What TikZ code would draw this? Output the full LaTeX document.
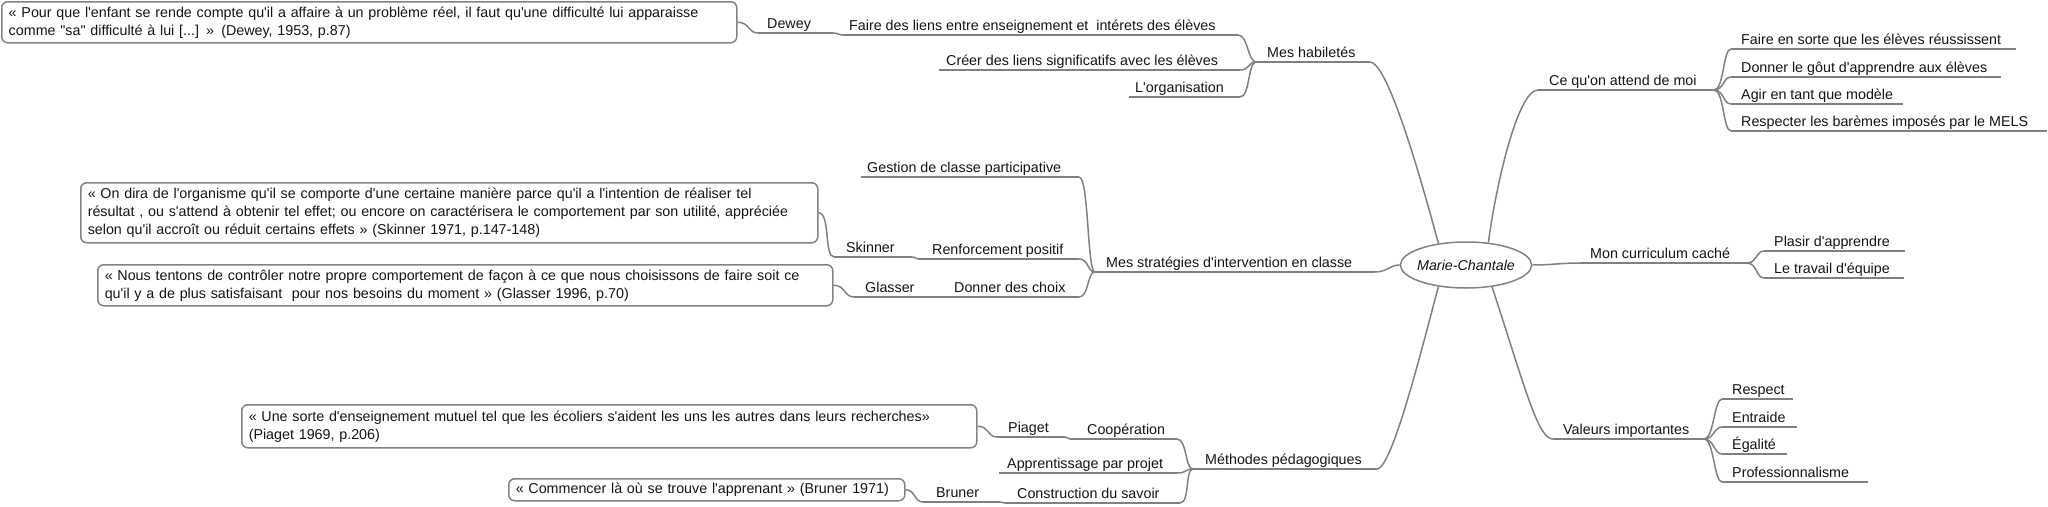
\documentclass[tikz,border=0pt]{standalone}
\usepackage{fontspec}
\newfontfamily\lsans{Liberation Sans}
\usetikzlibrary{shapes.geometric}
\definecolor{lnc}{RGB}{128,128,128}
\definecolor{bxc}{RGB}{130,130,130}
\definecolor{txc}{RGB}{20,20,20}
\begin{document}
\begin{tikzpicture}[x=1pt,y=-1pt,
  lbl/.style={font=\lsans\fontsize{14.3}{18}\selectfont, text=txc, inner sep=0pt, anchor=base west},
  ul/.style={draw=lnc, line width=1.5pt},
  conn/.style={draw=lnc, line width=1.5pt},
  qbox/.style={draw=bxc, line width=1.5pt, rounded corners=6pt, font=\lsans\fontsize{14.3}{18}\selectfont, text=txc, align=left, anchor=north west, inner xsep=7pt, inner ysep=4pt, text width=#1},
  root/.style={ellipse, draw=bxc, line width=1.5pt, font=\lsans\itshape\fontsize{14.3}{18}\selectfont, text=txc, minimum width=130pt, minimum height=46pt, inner xsep=-2.5pt, inner ysep=0pt}
]
\useasboundingbox (0,0) rectangle (2048,506);

% ---------- root ----------
\node[root] (mc) at (1466,265) {Marie-Chantale};

% ---------- Ce qu'on attend de moi ----------
\node[lbl] (ca) at (1549,85) {Ce qu'on attend de moi};
\coordinate (ca-l) at (1538,90); \coordinate (ca-r) at (1714,90);
\draw[ul] (ca-l) -- (ca-r);
\draw[conn] (mc.45) .. controls +(8,-60) and +(-20,0) .. (ca-l);

\node[lbl] (ca1) at (1741,44) {Faire en sorte que les élèves réussissent};
\coordinate (ca1-l) at (1731,49); \coordinate (ca1-r) at (2016,49);
\node[lbl] (ca2) at (1741,72) {Donner le gôut d'apprendre aux élèves};
\coordinate (ca2-l) at (1731,77); \coordinate (ca2-r) at (2001,77);
\node[lbl] (ca3) at (1741,99) {Agir en tant que modèle};
\coordinate (ca3-l) at (1731,104); \coordinate (ca3-r) at (1903,104);
\node[lbl] (ca4) at (1741,126) {Respecter les barèmes imposés par le MELS};
\coordinate (ca4-l) at (1731,131); \coordinate (ca4-r) at (2047,131);
\foreach \i in {1,2,3,4}{
  \draw[ul] (ca\i-l) -- (ca\i-r);
  \draw[conn] (ca-r) .. controls +(10,0) and +(-8,0) .. (ca\i-l);
}

% ---------- Mon curriculum caché ----------
\node[lbl] (cu) at (1590,258) {Mon curriculum caché};
\coordinate (cu-l) at (1580,263); \coordinate (cu-r) at (1747,263);
\draw[ul] (cu-l) -- (cu-r);
\draw[conn] (mc.east) .. controls +(20,0) and +(-20,0) .. (cu-l);

\node[lbl] (cu1) at (1774,246) {Plasir d'apprendre};
\coordinate (cu1-l) at (1764,251); \coordinate (cu1-r) at (1905,251);
\node[lbl] (cu2) at (1774,273) {Le travail d'équipe};
\coordinate (cu2-l) at (1764,278); \coordinate (cu2-r) at (1904,278);
\foreach \i in {1,2}{
  \draw[ul] (cu\i-l) -- (cu\i-r);
  \draw[conn] (cu-r) .. controls +(10,0) and +(-8,0) .. (cu\i-l);
}

% ---------- Valeurs importantes ----------
\node[lbl] (vi) at (1563,434) {Valeurs importantes};
\coordinate (vi-l) at (1553,439); \coordinate (vi-r) at (1704,439);
\draw[ul] (vi-l) -- (vi-r);
\draw[conn] (mc.-40) .. controls +(34,104) and +(-15,0) .. (vi-l);

\node[lbl] (vi1) at (1732,394) {Respect};
\coordinate (vi1-l) at (1722,399); \coordinate (vi1-r) at (1793,399);
\node[lbl] (vi2) at (1732,422) {Entraide};
\coordinate (vi2-l) at (1722,427); \coordinate (vi2-r) at (1797,427);
\node[lbl] (vi3) at (1732,449) {Égalité};
\coordinate (vi3-l) at (1722,454); \coordinate (vi3-r) at (1787,454);
\node[lbl] (vi4) at (1732,477) {Professionnalisme};
\coordinate (vi4-l) at (1722,482); \coordinate (vi4-r) at (1868,482);
\foreach \i in {1,2,3,4}{
  \draw[ul] (vi\i-l) -- (vi\i-r);
  \draw[conn] (vi-r) .. controls +(10,0) and +(-8,0) .. (vi\i-l);
}

% ---------- Mes habiletés ----------
\node[lbl] (mh) at (1267,57) {Mes habiletés};
\coordinate (mh-l) at (1256,62); \coordinate (mh-r) at (1370,62);
\draw[ul] (mh-l) -- (mh-r);
\draw[conn] (mh-r) .. controls +(15,0) and +(-26,-97) .. (mc.142);

\node[lbl] (fl) at (849,30) {Faire des liens entre enseignement et~~intérets des élèves};
\coordinate (fl-l) at (843,35); \coordinate (fl-r) at (1238,35);
\node[lbl] (cl) at (946,65) {Créer des liens significatifs avec les élèves};
\coordinate (cl-l) at (939,70); \coordinate (cl-r) at (1240,70);
\node[lbl] (lo) at (1135,92) {L'organisation};
\coordinate (lo-l) at (1129,97); \coordinate (lo-r) at (1240,97);
\foreach \n in {fl,cl,lo}{
  \draw[ul] (\n-l) -- (\n-r);
  \draw[conn] (\n-r) .. controls +(10,0) and +(-8,0) .. (mh-l);
}

\node[lbl] (dw) at (767,28) {Dewey};
\coordinate (dw-l) at (758,33); \coordinate (dw-r) at (833,33);
\draw[ul] (dw-l) -- (dw-r);
\draw[conn] (dw-r) .. controls +(5,0) and +(-5,0) .. (fl-l);

\node[qbox=721pt, minimum height=41pt] (dq) at (1,1) {« Pour que l'enfant se rende compte qu'il a affaire à un problème réel, il faut qu'une difficulté lui apparaisse\\comme "sa" difficulté à lui [...] » (Dewey, 1953, p.87)};
\draw[conn] (dq.east) .. controls +(12,0) and +(-10,0) .. (dw-l);

% ---------- Mes stratégies d'intervention en classe ----------
\node[lbl] (ms) at (1106,267) {Mes stratégies d'intervention en classe};
\coordinate (ms-l) at (1095,272); \coordinate (ms-r) at (1375,272);
\draw[ul] (ms-l) -- (ms-r);
\draw[conn] (ms-r) .. controls +(12,0) and +(-10,0) .. (mc.west);

\node[lbl] (gc) at (867,172) {Gestion de classe participative};
\coordinate (gc-l) at (861,177); \coordinate (gc-r) at (1079,177);
\node[lbl] (rp) at (932,254) {Renforcement positif};
\coordinate (rp-l) at (919,259); \coordinate (rp-r) at (1079,259);
\node[lbl] (dc) at (954,292) {Donner des choix};
\coordinate (dc-l) at (940,297); \coordinate (dc-r) at (1079,297);
\foreach \n in {gc,rp,dc}{
  \draw[ul] (\n-l) -- (\n-r);
  \draw[conn] (\n-r) .. controls +(10,0) and +(-8,0) .. (ms-l);
}

\node[lbl] (sk) at (846,252) {Skinner};
\coordinate (sk-l) at (834,257); \coordinate (sk-r) at (912,257);
\draw[ul] (sk-l) -- (sk-r);
\draw[conn] (sk-r) .. controls +(4,0) and +(-4,0) .. (rp-l);
\node[qbox=723pt, minimum height=60pt] (sq) at (80,182) {« On dira de l'organisme qu'il se comporte d'une certaine manière parce qu'il a l'intention de réaliser tel\\résultat , ou s'attend à obtenir tel effet; ou encore on caractérisera le comportement par son utilité, appréciée\\selon qu'il accroît ou réduit certains effets » (Skinner 1971, p.147-148)};
\draw[conn] (sq.east) .. controls +(12,0) and +(-10,0) .. (sk-l);

\node[lbl] (gl) at (865,292) {Glasser};
\coordinate (gl-l) at (854,297); \coordinate (gl-r) at (930,297);
\draw[ul] (gl-l) -- (gl-r);
\draw[conn] (gl-r) .. controls +(4,0) and +(-4,0) .. (dc-l);
\node[qbox=721pt, minimum height=41pt] (gq) at (97,264) {« Nous tentons de contrôler notre propre comportement de façon à ce que nous choisissons de faire soit ce\\qu'il y a de plus satisfaisant~~pour nos besoins du moment » (Glasser 1996, p.70)};
\draw[conn] (gq.east) .. controls +(12,0) and +(-10,0) .. (gl-l);

% ---------- Méthodes pédagogiques ----------
\node[lbl] (mp) at (1205,464) {Méthodes pédagogiques};
\coordinate (mp-l) at (1193,469); \coordinate (mp-r) at (1377,469);
\draw[ul] (mp-l) -- (mp-r);
\draw[conn] (mp-r) .. controls +(15,0) and +(-16,60) .. (mc.218);

\node[lbl] (co) at (1087,434) {Coopération};
\coordinate (co-l) at (1070,439); \coordinate (co-r) at (1177,439);
\node[lbl] (ap) at (1007,468) {Apprentissage par projet};
\coordinate (ap-l) at (999,473); \coordinate (ap-r) at (1177,473);
\node[lbl] (cs) at (1017,498) {Construction du savoir};
\coordinate (cs-l) at (1005,503); \coordinate (cs-r) at (1180,503);
\foreach \n in {co,ap,cs}{
  \draw[ul] (\n-l) -- (\n-r);
  \draw[conn] (\n-r) .. controls +(10,0) and +(-8,0) .. (mp-l);
}

\node[lbl] (pi) at (1008,432) {Piaget};
\coordinate (pi-l) at (997,437); \coordinate (pi-r) at (1065,437);
\draw[ul] (pi-l) -- (pi-r);
\draw[conn] (pi-r) .. controls +(3,0) and +(-3,0) .. (co-l);
\node[qbox=721pt, minimum height=43pt] (pq) at (241,404) {« Une sorte d'enseignement mutuel tel que les écoliers s'aident les uns les autres dans leurs recherches»\\(Piaget 1969, p.206)};
\draw[conn] (pq.east) .. controls +(12,0) and +(-10,0) .. (pi-l);

\node[lbl] (br) at (936,497) {Bruner};
\coordinate (br-l) at (923,502); \coordinate (br-r) at (1000,502);
\draw[ul] (br-l) -- (br-r);
\draw[conn] (br-r) .. controls +(3,0) and +(-3,0) .. (cs-l);
\node[qbox=382pt, minimum height=22pt] (bq) at (508,478) {« Commencer là où se trouve l'apprenant » (Bruner 1971)};
\draw[conn] (bq.east) .. controls +(10,0) and +(-9,0) .. (br-l);
\end{tikzpicture}
\end{document}
